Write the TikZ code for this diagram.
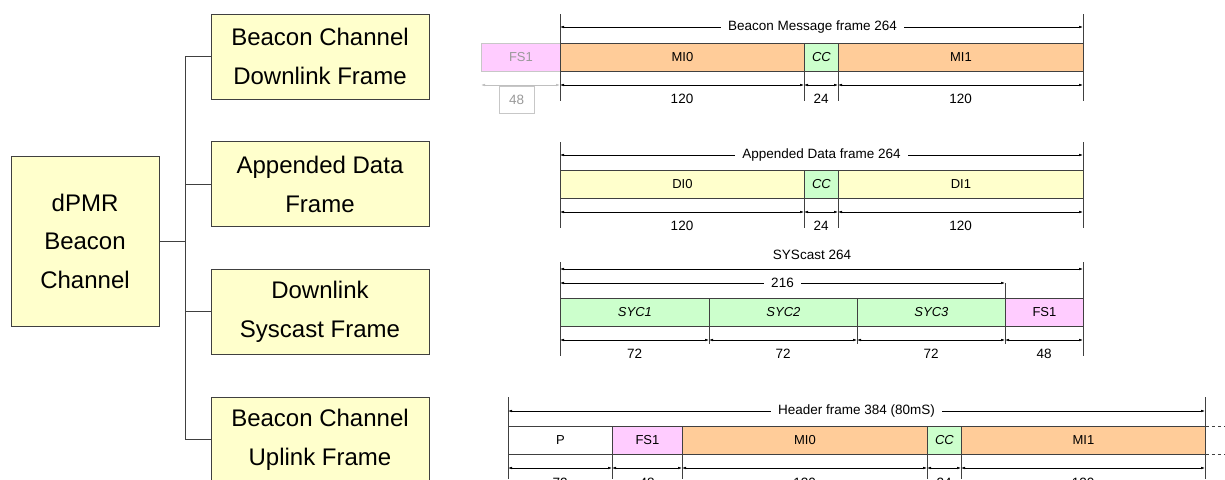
\documentclass[tikz,border=0pt]{standalone}
\usepackage{fontspec}
\setmainfont{Liberation Sans}
\usetikzlibrary{arrows.meta,positioning}

\definecolor{boxyellow}{HTML}{FFFFCC}
\definecolor{miorange}{HTML}{FFCC99}
\definecolor{ccgreen}{HTML}{CCFFCC}
\definecolor{fspink}{HTML}{FFCCFF}
\definecolor{edgegray}{HTML}{404040}

\tikzset{
	treebox/.style={draw=edgegray, fill=boxyellow, line width=0.9pt, align=center, inner sep=0pt,
		font=\fontsize{24}{38.5}\selectfont},
	seg/.style={draw=edgegray, line width=0.9pt, minimum height=28pt, inner sep=0pt, anchor=north west,
		font=\fontsize{13}{15}\selectfont},
	dimline/.style={line width=0.6pt, {Latex[length=4pt,width=2.6pt]}-{Latex[length=4pt,width=2.6pt]}},
	tick/.style={line width=0.9pt, edgegray},
	dimlabel/.style={font=\fontsize{13.5}{15}\selectfont, inner sep=1pt},
	faded/.style={draw=black!22, text=black!40},
}

\begin{document}
\begin{tikzpicture}[x=1pt, y=-1pt]
		%%%%% START %%%%%
		\useasboundingbox (0,0) rectangle (1225,479);
		\clip (0,0) rectangle (1225,479);
		
		% tree
		\node[treebox, minimum width=148pt, minimum height=170pt] (root) at (85,241) {dPMR\\Beacon\\Channel};
		\node[treebox, minimum width=218pt, minimum height=85pt] (bcd) at (320,56.5) {Beacon Channel\\Downlink Frame};
		\node[treebox, minimum width=218pt, minimum height=85pt, below=41.8pt of bcd] (adf) {Appended Data\\Frame};
		\node[treebox, minimum width=218pt, minimum height=85pt, below=41.8pt of adf] (dsf) {Downlink\\Syscast Frame};
		\node[treebox, minimum width=218pt, minimum height=85pt, below=41.8pt of dsf] (bcu) {Beacon Channel\\Uplink Frame};
		
		\draw[tick] (root.east) -- ++(26,0) coordinate (fork);
		\draw[tick] (fork) |- (bcd.west);
		\draw[tick] (fork) |- (adf.west);
		\draw[tick] (fork) |- (dsf.west);
		\draw[tick] (fork) |- (bcu.west);
		
		% beacon message frame
		\node[seg, fill=fspink, faded, minimum width=79pt] (bfs1) at (481,43) {FS1};
		\node[seg, fill=miorange, minimum width=244pt] (bmi0) at (560,43) {MI0};
		\node[seg, fill=ccgreen, minimum width=34pt] (bcc) at (804,43) {\itshape CC};
		\node[seg, fill=miorange, minimum width=245pt] (bmi1) at (838,43) {MI1};
		
		\draw[tick] (560,14) -- (560,101);
		\draw[tick] (1083,14) -- (1083,101);
		\draw[tick] (804,71) -- (804,101);
		\draw[tick] (838,71) -- (838,101);
		
		\draw[dimline] (560,27) -- node[dimlabel, fill=white, inner xsep=7pt, xshift=-9pt] {Beacon Message frame 264} (1083,27);
		\draw[dimline] (560,85) -- node[dimlabel, yshift=-14pt] {120} (804,85);
		\draw[dimline] (804,85) -- node[dimlabel, yshift=-14pt] {24} (838,85);
		\draw[dimline] (838,85) -- node[dimlabel, yshift=-14pt] {120} (1083,85);
		\draw[dimline, black!25] (481,85) -- (560,85);
		\node[faded, dimlabel, minimum width=35pt, minimum height=27pt] (b48) at (516.5,99.5) {48};
		
		% appended data frame
		\node[seg, fill=boxyellow, minimum width=244pt] (adi0) at (560,170) {DI0};
		\node[seg, fill=ccgreen, minimum width=34pt] (acc) at (804,170) {\itshape CC};
		\node[seg, fill=boxyellow, minimum width=245pt] (adi1) at (838,170) {DI1};
		
		\draw[tick] (560,142) -- (560,228);
		\draw[tick] (1083,142) -- (1083,228);
		\draw[tick] (804,198) -- (804,228);
		\draw[tick] (838,198) -- (838,228);
		
		\draw[dimline] (560,155) -- node[dimlabel, fill=white, inner xsep=7pt] {Appended Data frame 264} (1083,155);
		\draw[dimline] (560,212) -- node[dimlabel, yshift=-14pt] {120} (804,212);
		\draw[dimline] (804,212) -- node[dimlabel, yshift=-14pt] {24} (838,212);
		\draw[dimline] (838,212) -- node[dimlabel, yshift=-14pt] {120} (1083,212);
		
		% syscast
		\node[seg, fill=ccgreen, minimum width=149pt] (syc1) at (560,298) {\itshape SYC1};
		\node[seg, fill=ccgreen, minimum width=148pt] (syc2) at (709,298) {\itshape SYC2};
		\node[seg, fill=ccgreen, minimum width=148pt] (syc3) at (857,298) {\itshape SYC3};
		\node[seg, fill=fspink, minimum width=78pt] (sfs1) at (1005,298) {FS1};
		
		\draw[tick] (560,262) -- (560,356);
		\draw[tick] (1083,262) -- (1083,356);
		\draw[tick] (1005,283) -- (1005,298);
		\foreach \x in {709,857,1005} \draw[tick] (\x,326) -- (\x,344);
		
		\node[dimlabel] (sysname) at (812,255) {SYScast 264};
		\draw[dimline] (560,269) -- (1083,269);
		\draw[dimline] (560,283) -- node[dimlabel, fill=white, inner xsep=7pt] {216} (1005,283);
		\draw[dimline] (560,340) -- node[dimlabel, yshift=-14pt] {72} (709,340);
		\draw[dimline] (709,340) -- node[dimlabel, yshift=-14pt] {72} (857,340);
		\draw[dimline] (857,340) -- node[dimlabel, yshift=-14pt] {72} (1005,340);
		\draw[dimline] (1005,340) -- node[dimlabel, yshift=-14pt] {48} (1083,340);
		
		% header frame
		\node[seg, fill=white, minimum width=104pt] (hp) at (508,426) {P};
		\node[seg, fill=fspink, minimum width=70pt] (hfs1) at (612,426) {FS1};
		\node[seg, fill=miorange, minimum width=245pt] (hmi0) at (682,426) {MI0};
		\node[seg, fill=ccgreen, minimum width=34pt] (hcc) at (927,426) {\itshape CC};
		\node[seg, fill=miorange, minimum width=244pt] (hmi1) at (961,426) {MI1};
		
		\draw[tick] (508,397) -- (508,479);
		\draw[tick] (1205,397) -- (1205,479);
		\foreach \x in {612,682,927,961} \draw[tick] (\x,454) -- (\x,479);
		\draw[tick, dashed] (hmi1.north east) -- ++(22,0);
		\draw[tick, dashed] (hmi1.south east) -- ++(22,0);
		
		\draw[dimline] (508,411) -- node[dimlabel, fill=white, inner xsep=7pt] {Header frame 384 (80mS)} (1205,411);
		\draw[dimline] (508,468) -- node[dimlabel, yshift=-15pt] {72} (612,468);
		\draw[dimline] (612,468) -- node[dimlabel, yshift=-15pt] {48} (682,468);
		\draw[dimline] (682,468) -- node[dimlabel, yshift=-15pt] {120} (927,468);
		\draw[dimline] (927,468) -- node[dimlabel, yshift=-15pt] {24} (961,468);
		\draw[dimline] (961,468) -- node[dimlabel, yshift=-15pt] {120} (1205,468);
		%%%%% END %%%%%
\end{tikzpicture}
\end{document}
